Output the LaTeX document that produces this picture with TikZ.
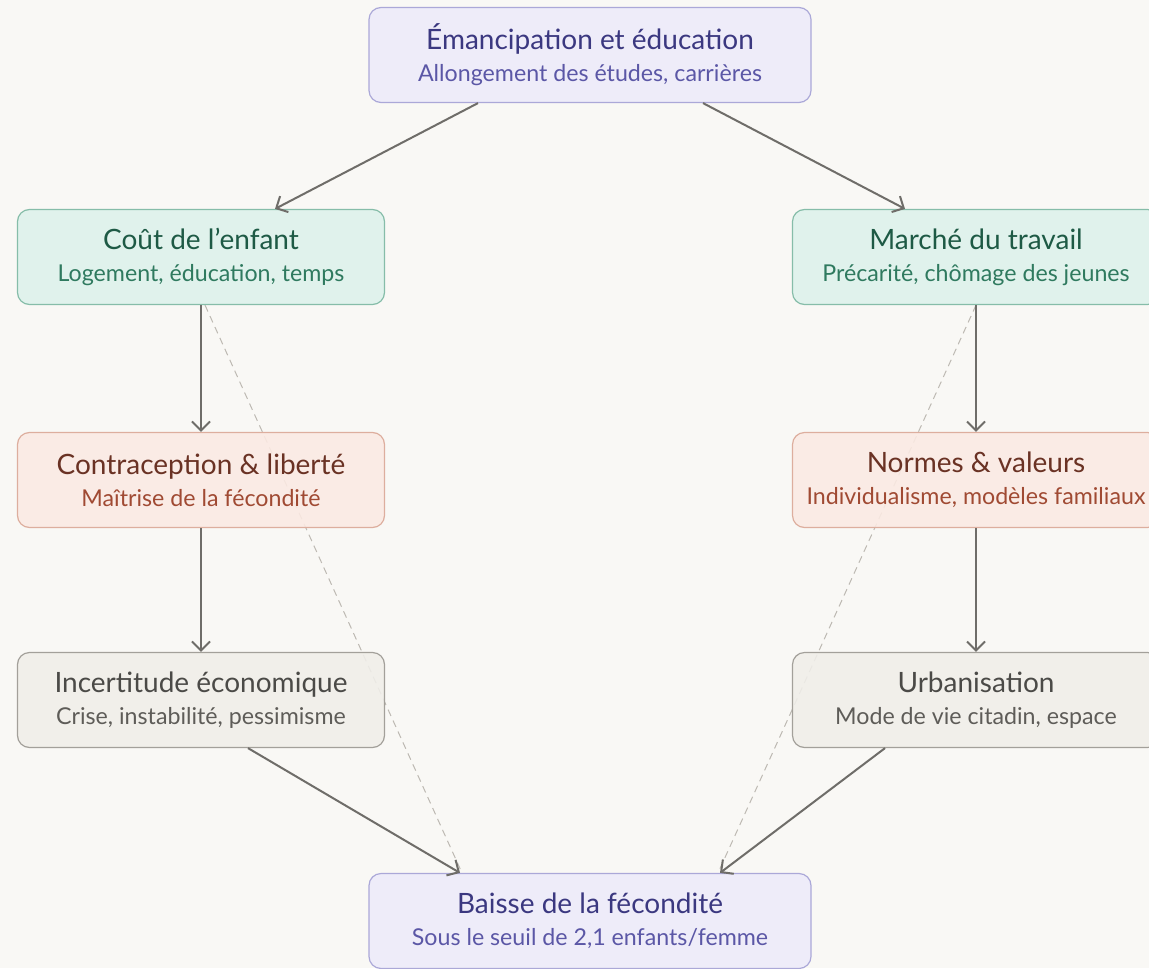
\documentclass[tikz,border=0pt]{standalone}
\usepackage{fontspec}
\setmainfont{Lato}
\usepackage{xcolor}
\usepackage{tikz}
\usetikzlibrary{arrows.meta,backgrounds}

\definecolor{bgpaper}{HTML}{F9F8F5}
\definecolor{lavfill}{HTML}{EDEBFA}
\definecolor{lavline}{HTML}{ABA8D8}
\definecolor{lavhead}{HTML}{3B3880}
\definecolor{lavsub}{HTML}{5B57A6}
\definecolor{grnfill}{HTML}{DDF2EB}
\definecolor{grnline}{HTML}{86BDA9}
\definecolor{grnhead}{HTML}{1E5A45}
\definecolor{grnsub}{HTML}{2F7A5F}
\definecolor{salfill}{HTML}{FBEAE3}
\definecolor{salline}{HTML}{DDAE9E}
\definecolor{salhead}{HTML}{6A3224}
\definecolor{salsub}{HTML}{A04A33}
\definecolor{gryfill}{HTML}{F0EEE9}
\definecolor{gryline}{HTML}{A3A09A}
\definecolor{gryhead}{HTML}{4B4A47}
\definecolor{grysub}{HTML}{5E5C58}
\definecolor{arrowgray}{HTML}{6F6D69}
\definecolor{dashgray}{HTML}{BDB9B2}

\tikzset{basic/.style={draw,rounded corners=6pt,line width=0.6pt,
                       align=center,fill opacity=0.88,text opacity=1,
                       minimum height=47.5pt,inner sep=0pt,
                       font=\fontsize{11.6}{16}\selectfont}}
\tikzset{wide/.style={basic,minimum width=221pt}}
\tikzset{side/.style={basic,minimum width=183.5pt}}

\newcommand{\boxtext}[3]{{\color{#1}\fontsize{14}{16}\selectfont #2}\\{#3}}

\begin{document}
\begin{tikzpicture}[x=0.5pt,y=-0.5pt,
    % colour families
    lav/.style ={fill=lavfill, draw=lavline, text=lavsub},
    grn/.style ={fill=grnfill, draw=grnline, text=grnsub},
    sal/.style ={fill=salfill, draw=salline, text=salsub},
    gry/.style ={fill=gryfill, draw=gryline, text=grysub},
    link/.style={draw=arrowgray, line width=1pt,
                 -{Straight Barb[length=4.5pt,width=9pt,line width=1pt]}},
    hint/.style={draw=dashgray, line width=0.5pt, dash pattern=on 3.5pt off 2.5pt}
  ]
    \useasboundingbox (0,0) rectangle (1149,968);

    \node[wide,lav](eman) at (590,55)
      {\boxtext{lavhead}{Émancipation et éducation}{Allongement des études, carrières}};
    \node[side,grn](cout) at (201,257)
      {\boxtext{grnhead}{Coût de l’enfant}{Logement, éducation, temps}};
    \node[side,grn](marche) at (976,257)
      {\boxtext{grnhead}{Marché du travail}{Précarité, chômage des jeunes}};
    \node[side,sal](contra) at (201,480)
      {\boxtext{salhead}{Contraception \& liberté}{Maîtrise de la fécondité}};
    \node[side,sal](normes) at (976,480)
      {\boxtext{salhead}{Normes \& valeurs}{Individualisme, modèles familiaux}};
    \node[side,gry](incert) at (201,700)
      {\boxtext{gryhead}{Incertitude économique}{Crise, instabilité, pessimisme}};
    \node[side,gry](urban) at (976,700)
      {\boxtext{gryhead}{Urbanisation}{Mode de vie citadin, espace}};
    \node[wide,lav](baisse) at (590,921)
      {\boxtext{lavhead}{Baisse de la fécondité}{Sous le seuil de 2,1 enfants/femme}};

    \draw[link] ([xshift=-56pt]eman.south) -- ([xshift=37pt]cout.north);
    \draw[link] ([xshift=56.5pt]eman.south) -- ([xshift=-35.5pt]marche.north);
    \draw[link] (cout) -- (contra);
    \draw[link] (contra) -- (incert);
    \draw[link] (marche) -- (normes);
    \draw[link] (normes) -- (urban);
    \draw[link] ([xshift=23.5pt]incert.south) -- ([xshift=-65pt]baisse.north);
    \draw[link] ([xshift=-45.5pt]urban.south) -- ([xshift=65pt]baisse.north);

    \begin{scope}[on background layer]
      \fill[bgpaper] (0,0) rectangle (1149,968);
      \draw[hint] ([xshift=2pt]cout.south) -- ([xshift=-64pt]baisse.north);
      \draw[hint] (marche.south) -- ([xshift=64pt]baisse.north);
    \end{scope}
\end{tikzpicture}
\end{document}
